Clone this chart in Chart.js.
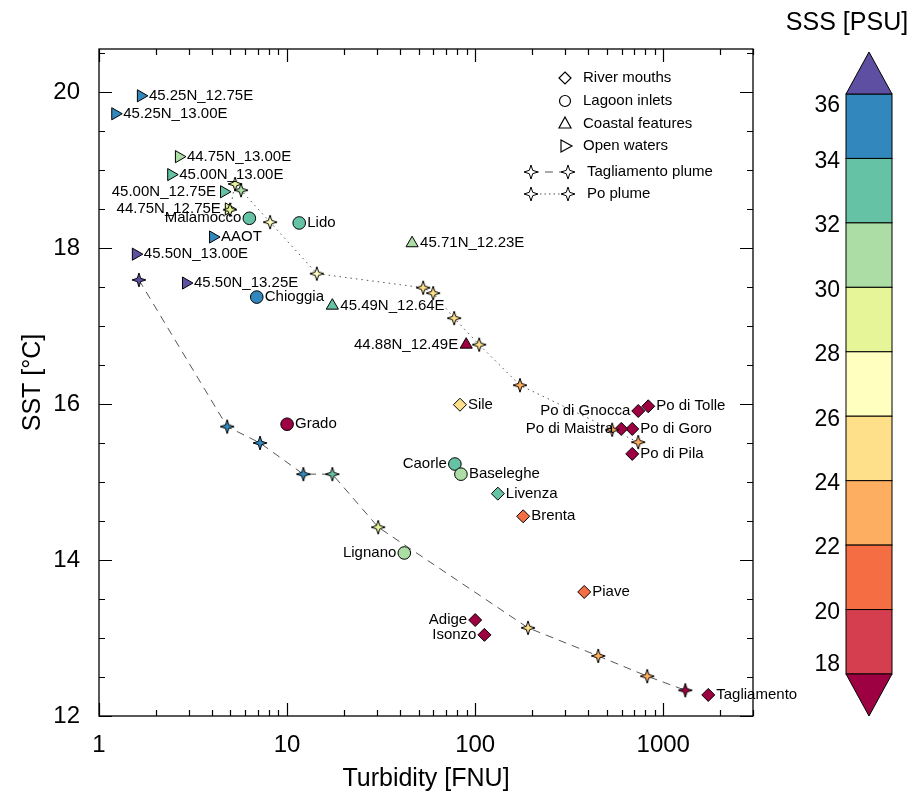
<!DOCTYPE html>
<html>
<head>
<meta charset="utf-8">
<script src="https://cdn.jsdelivr.net/npm/chart.js@4.4.0/dist/chart.umd.min.js"></script>
<style>
  html, body { margin: 0; padding: 0; background: #fff; }
  #wrap { width: 909px; height: 797px; }
</style>
</head>
<body>
<div id="wrap"><canvas id="chart" width="909" height="797"></canvas></div>
<script>
'use strict';

// ---- data (turbidity FNU, SST degC, SSS PSU) ----
const riverNames = ['Sile', 'Livenza', 'Brenta', 'Piave', 'Adige', 'Isonzo', 'Tagliamento',
  'Po di Tolle', 'Po di Gnocca', 'Po di Goro', 'Po di Maistra', 'Po di Pila'];
const riverTurb = [83, 132, 180, 380, 100, 112, 1735, 832, 736, 684, 598, 684];
const riverSST = [15.99, 14.85, 14.56, 13.59, 13.23, 13.04, 12.27, 15.97, 15.91, 15.68, 15.68, 15.36];
const riverSSS = [25, 33, 21, 21, 17, 17, 17, 17, 17, 17, 17, 17];

const lagoonNames = ['Malamocco', 'Lido', 'Chioggia', 'Grado', 'Caorle', 'Baseleghe', 'Lignano'];
const lagoonTurb = [6.3, 11.6, 6.9, 10.0, 78, 84, 42];
const lagoonSST = [18.38, 18.32, 17.37, 15.74, 15.23, 15.10, 14.09];
const lagoonSSS = [33, 33, 35, 17, 33, 31, 31];

const coastNames = ['45.71N_12.23E', '45.49N_12.64E', '44.88N_12.49E'];
const coastTurb = [46.2, 17.4, 89.6];
const coastSST = [18.06, 17.26, 16.76];
const coastSSS = [31, 33, 17];

const openNames = ['45.25N_12.75E', '45.25N_13.00E', '44.75N_13.00E', '45.00N_13.00E', '45.00N_12.75E',
  '44.75N_12.75E', 'AAOT', '45.50N_13.00E', '45.50N_13.25E'];
const openTurb = [1.67, 1.22, 2.66, 2.42, 4.62, 4.9, 4.04, 1.57, 2.90];
const openSST = [19.95, 19.72, 19.17, 18.94, 18.72, 18.5, 18.14, 17.92, 17.55];
const openSSS = [35, 35, 31, 33, 33, 29, 35, 37, 37];

const tagTurb = [1.63, 4.80, 7.18, 12.2, 17.4, 30.5, 191, 451, 822, 1309];
const tagSST = [17.59, 15.71, 15.50, 15.10, 15.10, 14.42, 13.13, 12.77, 12.51, 12.33];
const tagSSS = [37, 35, 35, 35, 33, 29, 25, 23, 23, 17];

const poTurb = [4.97, 5.29, 5.69, 8.12, 14.4, 52.9, 59.8, 77.3, 105, 173, 535, 736];
const poSST = [18.49, 18.82, 18.74, 18.33, 17.67, 17.49, 17.42, 17.10, 16.76, 16.24, 15.67, 15.51];
const poSSS = [29, 29, 31, 27, 27, 25, 25, 25, 25, 23, 23, 23];

const sssTicks = [36, 34, 32, 30, 28, 26, 24, 22, 20, 18];
const sstTicks = [12, 14, 16, 18, 20];
const turbTicks = [1, 10, 100, 1000];

// labels drawn to the left of their marker
const leftLabels = ['45.00N_12.75E', '44.75N_12.75E', 'Malamocco', '44.88N_12.49E', 'Caorle',
  'Lignano', 'Adige', 'Isonzo', 'Po di Gnocca', 'Po di Maistra'];

// spectral palette, from <18 up to >36
const bandColors = ['#9e0142', '#d53e4f', '#f46d43', '#fdae61', '#fee08b', '#ffffbf',
  '#e6f598', '#abdda4', '#66c2a5', '#3288bd', '#5e4fa2'];
function sssColor(s) {
  if (s < 18) return bandColors[0];
  if (s >= 36) return bandColors[10];
  return bandColors[1 + Math.floor((s - 18) / 2)];
}

const FONT = '"Liberation Sans", Arial, Helvetica, sans-serif';

function pts(xs, ys) {
  return xs.map(function(x, i) { return {x: x, y: ys[i]}; });
}

const starCache = {};
function makeStar(fill) {
  if (starCache[fill]) return starCache[fill];
  const c = document.createElement('canvas');
  c.width = 20; c.height = 20;
  const g = c.getContext('2d');
  g.beginPath();
  for (let i = 0; i < 8; i++) {
    const r = i % 2 ? 2.4 : 7;
    const a = i * Math.PI / 4 - Math.PI / 2;
    g.lineTo(10 + r * Math.cos(a), 10 + r * Math.sin(a));
  }
  g.closePath();
  g.fillStyle = fill;
  g.fill();
  g.strokeStyle = '#000';
  g.lineWidth = 1;
  g.stroke();
  starCache[fill] = c;
  return c;
}

function markerSet(label, xs, ys, sss, names, style, radius, rot) {
  return {
    label: label,
    names: names,
    data: pts(xs, ys),
    showLine: false,
    order: 1,
    pointStyle: style,
    pointRotation: rot || 0,
    pointRadius: radius,
    pointBackgroundColor: sss.map(sssColor),
    pointBorderColor: '#000',
    pointBorderWidth: 1
  };
}

function plumeSet(label, xs, ys, sss, dash) {
  return {
    label: label,
    data: pts(xs, ys),
    showLine: true,
    order: 0,
    borderColor: '#555',
    borderWidth: 1,
    borderDash: dash,
    pointStyle: sss.map(function(s) { return makeStar(sssColor(s)); }),
    pointRadius: 5
  };
}

// frame with inward ticks on all four sides
const frame = {
  id: 'frame',
  beforeDatasetsDraw(chart) {
    const ctx = chart.ctx, a = chart.chartArea;
    const xs = chart.scales.x, ys = chart.scales.y;
    ctx.save();
    ctx.strokeStyle = '#000';
    ctx.lineWidth = 1.3;
    ctx.strokeRect(a.left, a.top, a.right - a.left, a.bottom - a.top);
    ctx.lineWidth = 1.2;
    ctx.beginPath();
    for (let v = 12; v <= 20.5; v += 0.5) {
      const y = Math.round(ys.getPixelForValue(v)) + 0.5;
      const len = v % 2 === 0 ? 13 : 6;
      ctx.moveTo(a.left, y); ctx.lineTo(a.left + len, y);
      ctx.moveTo(a.right, y); ctx.lineTo(a.right - len, y);
    }
    for (let d = 1; d <= 1000; d *= 10) {
      for (let m = 1; m <= 9; m++) {
        const v = d * m;
        if (v > xs.max) break;
        const x = Math.round(xs.getPixelForValue(v)) + 0.5;
        const len = m === 1 ? 13 : 6;
        ctx.moveTo(x, a.bottom); ctx.lineTo(x, a.bottom - len);
        ctx.moveTo(x, a.top); ctx.lineTo(x, a.top + len);
      }
    }
    ctx.stroke();
    ctx.restore();
  }
};

// point names
const pointLabels = {
  id: 'pointLabels',
  afterDatasetsDraw(chart) {
    const ctx = chart.ctx;
    ctx.save();
    ctx.font = '15px ' + FONT;
    ctx.fillStyle = '#000';
    ctx.textBaseline = 'middle';
    chart.data.datasets.forEach(function(ds) {
      if (!ds.names) return;
      ds.data.forEach(function(p, i) {
        const x = chart.scales.x.getPixelForValue(p.x);
        const y = chart.scales.y.getPixelForValue(p.y);
        const name = ds.names[i];
        if (leftLabels.indexOf(name) >= 0) {
          ctx.textAlign = 'right';
          ctx.fillText(name, x - 8, y);
        } else {
          ctx.textAlign = 'left';
          ctx.fillText(name, x + 8, y);
        }
      });
    });
    ctx.restore();
  }
};

function openShape(ctx, kind, x, y) {
  ctx.beginPath();
  if (kind === 'diamond') {
    ctx.moveTo(x, y - 6); ctx.lineTo(x + 6, y); ctx.lineTo(x, y + 6); ctx.lineTo(x - 6, y);
    ctx.closePath();
  } else if (kind === 'circle') {
    ctx.arc(x, y, 5.5, 0, Math.PI * 2);
  } else if (kind === 'up') {
    ctx.moveTo(x, y - 7); ctx.lineTo(x + 6, y + 4); ctx.lineTo(x - 6, y + 4);
    ctx.closePath();
  } else if (kind === 'right') {
    ctx.moveTo(x + 7, y); ctx.lineTo(x - 4, y + 6); ctx.lineTo(x - 4, y - 6);
    ctx.closePath();
  }
  ctx.stroke();
}

// legend + colour bar
const extras = {
  id: 'extras',
  afterDraw(chart) {
    const ctx = chart.ctx;
    ctx.save();
    ctx.strokeStyle = '#000';
    ctx.lineWidth = 1.2;
    ctx.fillStyle = '#000';
    ctx.font = '15px ' + FONT;
    ctx.textBaseline = 'middle';
    ctx.textAlign = 'left';
    const shapes = [['diamond', 'River mouths', 78], ['circle', 'Lagoon inlets', 101],
      ['up', 'Coastal features', 124], ['right', 'Open waters', 146]];
    shapes.forEach(function(s) {
      openShape(ctx, s[0], 565, s[2]);
      ctx.fillText(s[1], 583, s[2]);
    });
    const star = makeStar('#fff');
    [['Tagliamento plume', 172, [8, 6]], ['Po plume', 194, [1.5, 3]]].forEach(function(l) {
      ctx.save();
      ctx.strokeStyle = '#555';
      ctx.lineWidth = 1;
      ctx.setLineDash(l[2]);
      ctx.beginPath();
      ctx.moveTo(531, l[1]); ctx.lineTo(568, l[1]);
      ctx.stroke();
      ctx.restore();
      ctx.drawImage(star, 531 - 10, l[1] - 10);
      ctx.drawImage(star, 568 - 10, l[1] - 10);
      ctx.fillText(l[0], 587, l[1]);
    });

    // colour bar
    const x0 = 846, x1 = 892, top = 94, bot = 674, cx = (x0 + x1) / 2;
    const h = (bot - top) / (sssTicks.length - 1);
    ctx.lineWidth = 1;
    for (let i = 0; i < sssTicks.length - 1; i++) {
      const y = top + i * h;
      ctx.fillStyle = sssColor(sssTicks[i] - 1);
      ctx.fillRect(x0, y, x1 - x0, h);
      ctx.strokeRect(x0, y, x1 - x0, h);
    }
    ctx.beginPath();
    ctx.moveTo(x0, top); ctx.lineTo(cx, 52); ctx.lineTo(x1, top); ctx.closePath();
    ctx.fillStyle = bandColors[10]; ctx.fill(); ctx.stroke();
    ctx.beginPath();
    ctx.moveTo(x0, bot); ctx.lineTo(cx, 716); ctx.lineTo(x1, bot); ctx.closePath();
    ctx.fillStyle = bandColors[0]; ctx.fill(); ctx.stroke();

    ctx.fillStyle = '#000';
    ctx.font = '23px ' + FONT;
    ctx.textAlign = 'right';
    sssTicks.forEach(function(t, i) {
      let y = top + i * h + 3;
      if (i === 0) y = top + 12;
      if (i === sssTicks.length - 1) y = bot - 9;
      ctx.fillText(String(t), 840, y);
    });
    ctx.font = '25px ' + FONT;
    ctx.textAlign = 'center';
    ctx.fillText('SSS [PSU]', 847, 23);
    ctx.restore();
  }
};

new Chart(document.getElementById('chart'), {
  type: 'scatter',
  data: {
    datasets: [
      plumeSet('Tagliamento plume', tagTurb, tagSST, tagSSS, [8, 6]),
      plumeSet('Po plume', poTurb, poSST, poSSS, [1.5, 4]),
      markerSet('River mouths', riverTurb, riverSST, riverSSS, riverNames, 'rectRot', 6.5),
      markerSet('Lagoon inlets', lagoonTurb, lagoonSST, lagoonSSS, lagoonNames, 'circle', 6.3),
      markerSet('Coastal features', coastTurb, coastSST, coastSSS, coastNames, 'triangle', 7),
      markerSet('Open waters', openTurb, openSST, openSSS, openNames, 'triangle', 7, 90)
    ]
  },
  options: {
    responsive: false,
    devicePixelRatio: 1,
    animation: false,
    layout: { autoPadding: false, padding: { top: 49, right: 156, left: 0, bottom: 0 } },
    plugins: { legend: { display: false }, tooltip: { enabled: false } },
    scales: {
      x: {
        type: 'logarithmic',
        min: 1,
        max: 3000,
        grid: { display: false, drawTicks: false },
        border: { display: false },
        afterFit: function(s) { s.height = 81; },
        ticks: {
          autoSkip: false,
          maxRotation: 0,
          padding: 15,
          color: '#000',
          font: { family: FONT, size: 24 },
          callback: function(v) { return turbTicks.indexOf(v) >= 0 ? String(v) : ''; }
        },
        title: {
          display: true,
          text: 'Turbidity [FNU]',
          color: '#000',
          font: { family: FONT, size: 25 },
          padding: { top: 0, bottom: 3 }
        }
      },
      y: {
        min: 12,
        max: 20.55,
        grid: { display: false, drawTicks: false },
        border: { display: false },
        afterFit: function(s) { s.width = 99; },
        ticks: {
          stepSize: 0.5,
          autoSkip: false,
          padding: 19,
          color: '#000',
          font: { family: FONT, size: 24 },
          callback: function(v) { return sstTicks.indexOf(v) >= 0 ? String(v) : ''; }
        },
        title: {
          display: true,
          text: 'SST [°C]',
          color: '#000',
          font: { family: FONT, size: 25 },
          padding: { top: 18, bottom: 0 }
        }
      }
    }
  },
  plugins: [frame, pointLabels, extras]
});
</script>
</body>
</html>
